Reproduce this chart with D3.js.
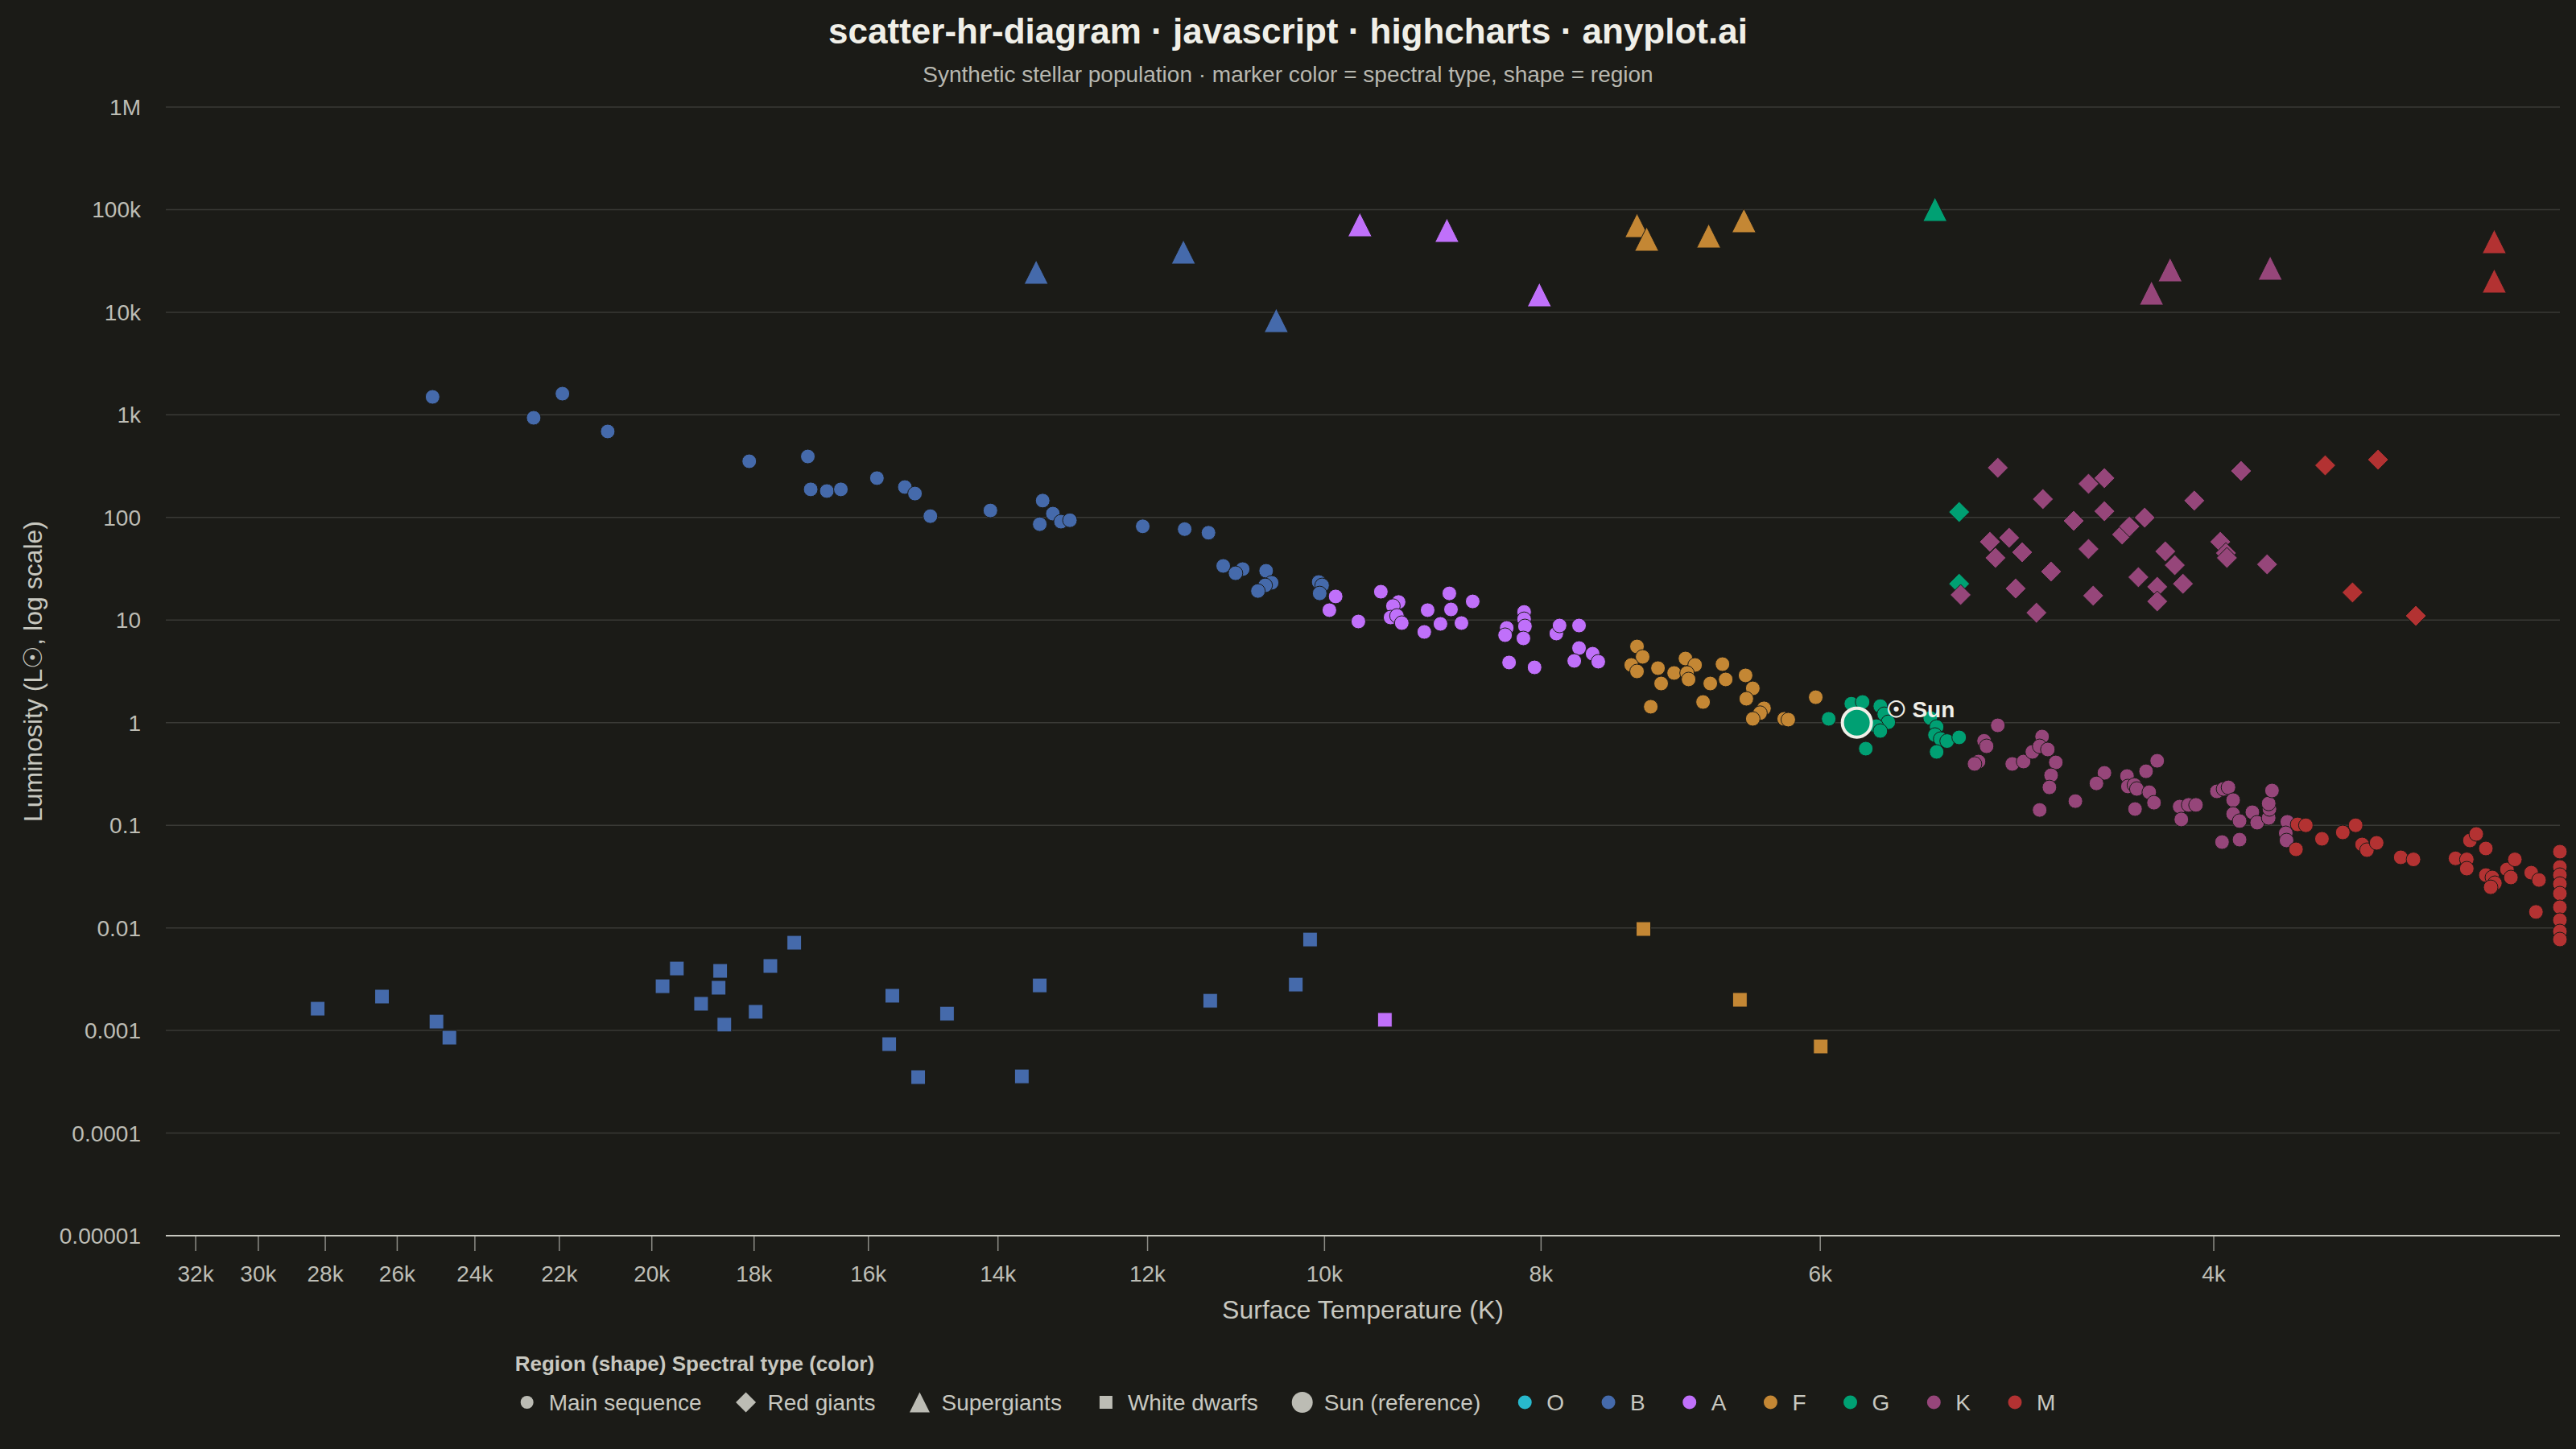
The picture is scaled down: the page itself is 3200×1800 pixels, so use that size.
<!DOCTYPE html>
<html>
<head>
<meta charset="utf-8">
<script src="https://cdn.jsdelivr.net/npm/d3@7"></script>
<style>
    html, body { margin: 0; padding: 0; background: #1b1b17; }
    svg { display: block; font-family: "Liberation Sans", Arial, Helvetica, sans-serif; }
</style>
</head>
<body>
<svg id="chart" width="3200" height="1800"></svg>
<script>
// [temperature K, luminosity L_sun, spectral type]
var mainSequence = [
    [25070, 1497, 'B'], [22590, 936, 'B'], [21930, 1609, 'B'], [20930, 689, 'B'],
    [18090, 353, 'B'], [17030, 393, 'B'], [16980, 188, 'B'], [16700, 181, 'B'],
    [16460, 188, 'B'], [15860, 242, 'B'], [15410, 198, 'B'], [15250, 171, 'B'],
    [15010, 103, 'B'], [14110, 117, 'B'], [13370, 146, 'B'], [13230, 109, 'B'],
    [13410, 86, 'B'], [13120, 91, 'B'], [13000, 94, 'B'], [12060, 82, 'B'],
    [11550, 77, 'B'], [11270, 71, 'B'], [11100, 33.7, 'B'], [10880, 31.4, 'B'],
    [10960, 28.6, 'B'], [10620, 30.2, 'B'], [10560, 23.1, 'B'], [10630, 21.8, 'B'],
    [10710, 19.2, 'B'], [10060, 23.5, 'B'], [10025, 21.8, 'B'], [10050, 18.2, 'B'],
    [9886, 17.0, 'A'], [9950, 12.5, 'A'], [9657, 9.69, 'A'], [9436, 18.9, 'A'],
    [9265, 15.0, 'A'], [9319, 13.7, 'A'], [9342, 10.6, 'A'], [9281, 11.0, 'A'],
    [9235, 9.35, 'A'], [8992, 12.5, 'A'], [8793, 18.2, 'A'], [8778, 12.7, 'A'],
    [8874, 9.18, 'A'], [9023, 7.66, 'A'], [8684, 9.35, 'A'], [8584, 15.2, 'A'],
    [8141, 12.0, 'A'], [8141, 10.2, 'A'], [8134, 8.69, 'A'], [8288, 8.38, 'A'],
    [8302, 7.13, 'A'], [8147, 6.63, 'A'], [7875, 7.39, 'A'], [7849, 8.85, 'A'],
    [7693, 8.85, 'A'], [8268, 3.86, 'A'], [8054, 3.46, 'A'], [7693, 5.34, 'A'],
    [7586, 4.70, 'A'], [7731, 4.00, 'A'], [7542, 3.93, 'A'],
    [7247, 5.53, 'F'], [7205, 4.38, 'F'], [7290, 3.65, 'F'], [7247, 3.16, 'F'],
    [7092, 3.40, 'F'], [6975, 3.05, 'F'], [7069, 2.41, 'F'], [6894, 4.22, 'F'],
    [6826, 3.65, 'F'], [6883, 3.05, 'F'], [6872, 2.64, 'F'], [6636, 3.72, 'F'],
    [6614, 2.64, 'F'], [6720, 2.41, 'F'], [6480, 2.89, 'F'], [6432, 2.16, 'F'],
    [6475, 1.71, 'F'], [7145, 1.43, 'F'], [6770, 1.59, 'F'], [6358, 1.38, 'F'],
    [6384, 1.24, 'F'], [6432, 1.09, 'F'], [6227, 1.09, 'F'], [6201, 1.07, 'F'],
    [6028, 1.77, 'F'],
    [5948, 1.09, 'G'], [5811, 1.53, 'G'], [5744, 1.59, 'G'], [5640, 1.45, 'G'],
    [5617, 1.21, 'G'], [5594, 1.01, 'G'], [5663, 0.925, 'G'], [5640, 0.830, 'G'],
    [5725, 0.558, 'G'], [5357, 1.11, 'G'], [5322, 0.909, 'G'], [5331, 0.759, 'G'],
    [5300, 0.693, 'G'], [5265, 0.662, 'G'], [5200, 0.719, 'G'], [5322, 0.519, 'G'],
    [4997, 0.942, 'K'], [5068, 0.665, 'K'], [5055, 0.589, 'K'], [5097, 0.418, 'K'],
    [5118, 0.396, 'K'], [4923, 0.396, 'K'], [4866, 0.418, 'K'], [4822, 0.519, 'K'],
    [4774, 0.732, 'K'], [4786, 0.589, 'K'], [4746, 0.548, 'K'], [4707, 0.410, 'K'],
    [4730, 0.307, 'K'], [4738, 0.234, 'K'], [4786, 0.141, 'K'], [4613, 0.172, 'K'],
    [4477, 0.324, 'K'], [4514, 0.256, 'K'], [4374, 0.302, 'K'], [4370, 0.239, 'K'],
    [4341, 0.247, 'K'], [4330, 0.226, 'K'], [4289, 0.336, 'K'], [4240, 0.425, 'K'],
    [4275, 0.210, 'K'], [4254, 0.166, 'K'], [4338, 0.144, 'K'], [4143, 0.152, 'K'],
    [4105, 0.158, 'K'], [4074, 0.158, 'K'], [4136, 0.114, 'K'], [3987, 0.214, 'K'],
    [3960, 0.226, 'K'], [3940, 0.234, 'K'], [3921, 0.176, 'K'], [3921, 0.129, 'K'],
    [3895, 0.110, 'K'], [3844, 0.134, 'K'], [3825, 0.106, 'K'], [3780, 0.118, 'K'],
    [3777, 0.144, 'K'], [3780, 0.163, 'K'], [3767, 0.218, 'K'], [3966, 0.0686, 'K'],
    [3895, 0.0724, 'K'], [3708, 0.108, 'K'], [3714, 0.0837, 'K'], [3711, 0.0711, 'K'],
    [3669, 0.102, 'M'], [3638, 0.100, 'M'], [3675, 0.0583, 'M'], [3578, 0.0738, 'M'],
    [3502, 0.0852, 'M'], [3456, 0.100, 'M'], [3433, 0.0650, 'M'], [3416, 0.0573, 'M'],
    [3382, 0.0674, 'M'], [3299, 0.0487, 'M'], [3256, 0.0465, 'M'], [3118, 0.0476, 'M'],
    [3082, 0.0465, 'M'], [3072, 0.0711, 'M'], [3052, 0.0822, 'M'], [3022, 0.0594, 'M'],
    [3082, 0.0378, 'M'], [3022, 0.0327, 'M'], [3002, 0.0310, 'M'], [2994, 0.0273, 'M'],
    [3007, 0.0249, 'M'], [2957, 0.0371, 'M'], [2945, 0.0310, 'M'], [2933, 0.0465, 'M'],
    [2884, 0.0345, 'M'], [2861, 0.0293, 'M'], [2870, 0.0143, 'M'], [2800, 0.0553, 'M'],
    [2800, 0.0392, 'M'], [2800, 0.0327, 'M'], [2800, 0.0268, 'M'], [2800, 0.0216, 'M'],
    [2800, 0.0159, 'M'], [2800, 0.0119, 'M'], [2800, 0.00924, 'M'], [2800, 0.00771, 'M']
];

var redGiants = [
    [5200, 113, 'G'], [5200, 22.6, 'G'],
    [4997, 305, 'K'], [5192, 17.6, 'K'], [4770, 151, 'K'], [4551, 213, 'K'],
    [4477, 242, 'K'], [4621, 92.7, 'K'], [4477, 115, 'K'], [5038, 57.9, 'K'],
    [4939, 63.4, 'K'], [5009, 40.4, 'K'], [4873, 45.8, 'K'], [4730, 29.7, 'K'],
    [4906, 20.3, 'K'], [4802, 11.8, 'K'], [4551, 49.3, 'K'], [4529, 17.3, 'K'],
    [4396, 68.2, 'K'], [4363, 81.7, 'K'], [4295, 99.6, 'K'], [4323, 26.2, 'K'],
    [4240, 21.1, 'K'], [4240, 15.2, 'K'], [4205, 46.7, 'K'], [4164, 34.3, 'K'],
    [4129, 22.6, 'K'], [4081, 146, 'K'], [3889, 284, 'K'], [3973, 57.9, 'K'],
    [3950, 45.0, 'K'], [3946, 40.4, 'K'], [3786, 34.9, 'K'],
    [3566, 322, 'M'], [3377, 366, 'M'], [3467, 18.6, 'M'], [3248, 11.0, 'M']
];

var supergiants = [
    [13460, 24630, 'B'], [11565, 38700, 'B'], [10510, 8330, 'B'],
    [9642, 71500, 'A'], [8815, 63000, 'A'], [8014, 14850, 'A'],
    [7247, 70200, 'F'], [7175, 51700, 'F'], [6731, 55500, 'F'], [6491, 78300, 'F'],
    [5331, 100800, 'G'],
    [4184, 26000, 'K'], [4265, 15400, 'K'], [3774, 26960, 'K'],
    [2996, 48950, 'M'], [2996, 20200, 'M']
];

var whiteDwarfs = [
    [28220, 0.00163, 'B'], [26410, 0.00214, 'B'], [24970, 0.00122, 'B'], [24640, 0.000851, 'B'],
    [19780, 0.00270, 'B'], [19490, 0.00402, 'B'], [18640, 0.00381, 'B'], [18670, 0.00261, 'B'],
    [19010, 0.00182, 'B'], [18560, 0.00114, 'B'], [17970, 0.00152, 'B'], [17700, 0.00425, 'B'],
    [17270, 0.00717, 'B'], [15610, 0.00218, 'B'], [15660, 0.000736, 'B'], [15200, 0.000351, 'B'],
    [14755, 0.00146, 'B'], [13660, 0.000357, 'B'], [13410, 0.00275, 'B'], [11250, 0.00195, 'B'],
    [10300, 0.00280, 'B'], [10150, 0.0077, 'B'],
    [9397, 0.00127, 'A'],
    [7199, 0.00975, 'F'], [6518, 0.00199, 'F'], [5997, 0.000698, 'F']
];

var sun = [5778, 1];

var spectralTypes = ['O', 'B', 'A', 'F', 'G', 'K', 'M'];
var typeColors = ['#28b9cd', '#456aab', '#c070fa', '#c48734', '#00a073', '#96467a', '#b33232'];

var regionNames = ['Main sequence', 'Red giants', 'Supergiants', 'White dwarfs', 'Sun (reference)'];

var xTicks = [32000, 30000, 28000, 26000, 24000, 22000, 20000, 18000, 16000, 14000, 12000, 10000, 8000, 6000, 4000];
var xTickLabels = ['32k', '30k', '28k', '26k', '24k', '22k', '20k', '18k', '16k', '14k', '12k', '10k', '8k', '6k', '4k'];
var yTicks = [1e6, 1e5, 1e4, 1e3, 100, 10, 1, 0.1, 0.01, 0.001, 0.0001, 0.00001];
var yTickLabels = ['1M', '100k', '10k', '1k', '100', '10', '1', '0.1', '0.01', '0.001', '0.0001', '0.00001'];

(function () {
    var W = 3200,
        H = 1800,
        bg = '#1b1b17',
        plot = {left: 206, right: 3180, top: 133, bottom: 1535},
        svg = d3.select('#chart'),
        color = d3.scaleOrdinal(spectralTypes, typeColors),
        x,
        y,
        g,
        legend;

    x = d3.scaleLog().domain([33000, 2800]).range([plot.left, plot.right]);
    y = d3.scaleLog().domain([1e-5, 1e6]).range([plot.bottom, plot.top]);

    function symbolPath(shape, r) {
        var p = d3.path();
        switch (shape) {
        case 'square':
            p.rect(-r, -r, 2 * r, 2 * r);
            break;
        case 'diamond':
            p.moveTo(0, -r);
            p.lineTo(r, 0);
            p.lineTo(0, r);
            p.lineTo(-r, 0);
            p.closePath();
            break;
        case 'triangle':
            p.moveTo(0, -r);
            p.lineTo(r, r);
            p.lineTo(-r, r);
            p.closePath();
            break;
        default:
            p.moveTo(r, 0);
            p.arc(0, 0, r, 0, 2 * Math.PI);
            p.closePath();
        }
        return p.toString();
    }

    svg.append('rect').attr('width', W).attr('height', H).attr('fill', bg);

    // title
    svg.append('text')
        .attr('x', W / 2).attr('y', 54)
        .attr('text-anchor', 'middle')
        .attr('font-size', 44).attr('font-weight', 'bold')
        .attr('fill', '#f0efe8')
        .text('scatter-hr-diagram · javascript · highcharts · anyplot.ai');
    svg.append('text')
        .attr('x', W / 2).attr('y', 102)
        .attr('text-anchor', 'middle')
        .attr('font-size', 28)
        .attr('fill', '#b8b8b0')
        .text('Synthetic stellar population · marker color = spectral type, shape = region');

    // grid + y labels
    g = svg.append('g');
    g.selectAll('line.grid')
        .data(yTicks.slice(0, -1))
        .enter().append('line')
        .attr('class', 'grid')
        .attr('x1', plot.left).attr('x2', plot.right)
        .attr('y1', function (d) { return y(d); })
        .attr('y2', function (d) { return y(d); })
        .attr('stroke', '#3a3a36').attr('stroke-width', 1.5);

    g.selectAll('text.ylab')
        .data(yTicks)
        .enter().append('text')
        .attr('class', 'ylab')
        .attr('x', 175)
        .attr('y', function (d) { return y(d) + 10; })
        .attr('text-anchor', 'end')
        .attr('font-size', 28)
        .attr('fill', '#bdbdb5')
        .text(function (d, i) { return yTickLabels[i]; });

    // x axis
    g.append('line')
        .attr('x1', plot.left).attr('x2', plot.right)
        .attr('y1', plot.bottom).attr('y2', plot.bottom)
        .attr('stroke', '#c8c8c0').attr('stroke-width', 2);

    g.selectAll('line.xtick')
        .data(xTicks)
        .enter().append('line')
        .attr('class', 'xtick')
        .attr('x1', function (d) { return x(d); })
        .attr('x2', function (d) { return x(d); })
        .attr('y1', plot.bottom + 1).attr('y2', plot.bottom + 19)
        .attr('stroke', '#8c8c86').attr('stroke-width', 1.5);

    g.selectAll('text.xlab')
        .data(xTicks)
        .enter().append('text')
        .attr('class', 'xlab')
        .attr('x', function (d) { return x(d); })
        .attr('y', 1592)
        .attr('text-anchor', 'middle')
        .attr('font-size', 28)
        .attr('fill', '#bdbdb5')
        .text(function (d, i) { return xTickLabels[i]; });

    // axis titles
    svg.append('text')
        .attr('x', (plot.left + plot.right) / 2).attr('y', 1638)
        .attr('text-anchor', 'middle')
        .attr('font-size', 32)
        .attr('fill', '#c8c8c0')
        .text('Surface Temperature (K)');
    svg.append('text')
        .attr('transform', 'translate(52,' + ((plot.top + plot.bottom) / 2) + ') rotate(-90)')
        .attr('text-anchor', 'middle')
        .attr('font-size', 32)
        .attr('fill', '#c8c8c0')
        .text('Luminosity (L☉, log scale)');

    // markers
    function drawSeries(data, shape, r) {
        svg.append('g').selectAll('path')
            .data(data)
            .enter().append('path')
            .attr('d', symbolPath(shape, r))
            .attr('transform', function (d) { return 'translate(' + x(d[0]) + ',' + y(d[1]) + ')'; })
            .attr('fill', function (d) { return color(d[2]); })
            .attr('stroke', bg)
            .attr('stroke-width', 1);
    }

    drawSeries(mainSequence, 'circle', 9);
    drawSeries(redGiants, 'diamond', 13);
    drawSeries(supergiants, 'triangle', 15);
    drawSeries(whiteDwarfs, 'square', 9);

    // the sun
    svg.append('circle')
        .attr('cx', x(sun[0])).attr('cy', y(sun[1]))
        .attr('r', 18)
        .attr('fill', color('G'))
        .attr('stroke', '#f0efe8').attr('stroke-width', 4);
    svg.append('text')
        .attr('x', x(sun[0]) + 36).attr('y', y(sun[1]) - 7)
        .attr('font-size', 28).attr('font-weight', 'bold')
        .attr('fill', '#f0efe8')
        .text('☉ Sun');

    // legend
    var legendItems = [
        {label: regionNames[0], shape: 'circle', r: 8, fill: '#bcbcb4'},
        {label: regionNames[1], shape: 'diamond', r: 12.5, fill: '#bcbcb4'},
        {label: regionNames[2], shape: 'triangle', r: 12.5, fill: '#bcbcb4'},
        {label: regionNames[3], shape: 'square', r: 8, fill: '#bcbcb4'},
        {label: regionNames[4], shape: 'circle', r: 13, fill: '#bcbcb4'}
    ];
    spectralTypes.forEach(function (t) {
        legendItems.push({label: t, shape: 'circle', r: 8.5, fill: color(t)});
    });

    legend = svg.append('g');
    var cx = 0, rowY = 1742, items = [], i, it, txt, left, right, shift;
    for (i = 0; i < legendItems.length; i += 1) {
        it = legendItems[i];
        var ig = legend.append('g');
        ig.append('path')
            .attr('d', symbolPath(it.shape, it.r))
            .attr('transform', 'translate(' + cx + ',' + rowY + ')')
            .attr('fill', it.fill);
        txt = ig.append('text')
            .attr('x', cx + 27).attr('y', rowY + 10)
            .attr('font-size', 28)
            .attr('fill', '#c8c8c0')
            .text(it.label);
        right = cx + 27 + txt.node().getComputedTextLength();
        cx = right + 55;
    }
    left = -8;
    shift = W / 2 - (left + right) / 2;
    legend.attr('transform', 'translate(' + shift + ',0)');

    svg.append('text')
        .attr('x', shift + left - 7).attr('y', 1703)
        .attr('font-size', 26).attr('font-weight', 'bold')
        .attr('fill', '#c8c8c0')
        .text('Region (shape) Spectral type (color)');
}());
</script>
</body>
</html>
